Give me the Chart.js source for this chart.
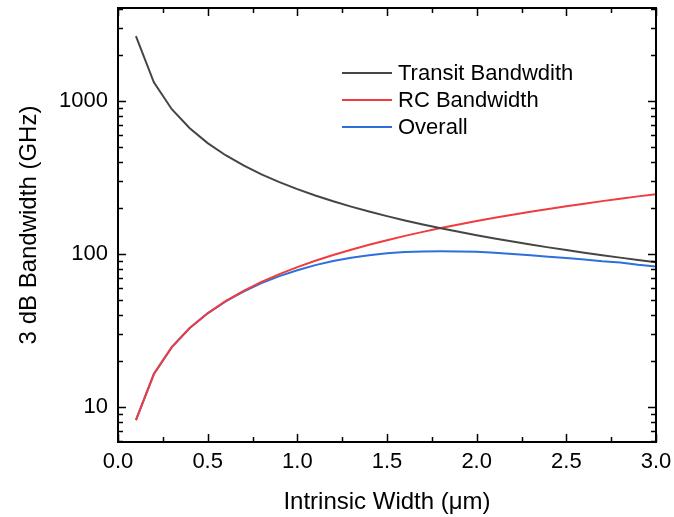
<!DOCTYPE html>
<html>
<head>
<meta charset="utf-8">
<script src="https://cdn.jsdelivr.net/npm/chart.js@4/dist/chart.umd.min.js"></script>
<style>
  html, body { margin: 0; padding: 0; background: #fff; }
  #wrap { width: 674px; height: 517px; }
</style>
</head>
<body>
<div id="wrap"><canvas id="chart" width="674" height="517"></canvas></div>
<script>
// Intrinsic width (um)
const widths = [0.1, 0.2, 0.3, 0.4, 0.5, 0.6, 0.7, 0.8, 0.9, 1.0,
  1.1, 1.2, 1.3, 1.4, 1.5, 1.6, 1.7, 1.8, 1.9, 2.0,
  2.1, 2.2, 2.3, 2.4, 2.5, 2.6, 2.7, 2.8, 2.9, 3.0];
// 3 dB bandwidths (GHz)
const transitBw = [2650, 1325, 883.3, 662.5, 530, 441.7, 378.6, 331.3, 294.4, 265,
  240.9, 220.8, 203.8, 189.3, 176.7, 165.6, 155.9, 147.2, 139.5, 132.5,
  126.2, 120.5, 115.2, 110.4, 106, 101.9, 98.1, 94.6, 91.4, 88.3];
const rcBw = [8.2, 16.4, 24.6, 32.8, 41, 49.2, 57.4, 65.6, 73.8, 82,
  90.2, 98.4, 106.6, 114.8, 123, 131.2, 139.4, 147.6, 155.8, 164,
  172.2, 180.4, 188.6, 196.8, 205, 213.2, 221.4, 229.6, 237.8, 246];
const overallBw = [8.2, 16.4, 24.6, 32.8, 40.9, 48.9, 56.8, 64.4, 71.6, 78.3,
  84.5, 89.9, 94.5, 98.1, 101.0, 102.9, 103.9, 104.1, 103.7, 103.3,
  101.7, 99.9, 98.2, 96.0, 94.2, 92.0, 89.6, 87.8, 85.0, 82.9];

const seriesLabels = ['Transit Bandwdith', 'RC Bandwidth', 'Overall'];
const seriesColors = ['#454545', '#f03c3c', '#2d6fdc'];

const xTickLabels = [0, 0.5, 1.0, 1.5, 2.0, 2.5, 3.0];
const xMinorTicks = [0.25, 0.75, 1.25, 1.75, 2.25, 2.75];
const yTickLabels = [10, 100, 1000];

const FONT = '"Liberation Sans", Arial, sans-serif';

// y minor ticks for the log axis: 2..9 of each decade
const yMinorTicks = [];
[1, 10, 100, 1000].forEach(d => {
  for (let m = 2; m <= 9; m++) yMinorTicks.push(d * m);
});

// Draws the box frame with inward ticks on all four sides
const framePlugin = {
  id: 'frame',
  afterDraw(chart) {
    const { ctx, chartArea: a, scales } = chart;
    const xs = scales.x, ys = scales.y;
    ctx.save();
    ctx.strokeStyle = '#000';
    ctx.lineWidth = 2;
    ctx.strokeRect(a.left, a.top, a.right - a.left, a.bottom - a.top);
    ctx.lineWidth = 1.5;
    const xt = (v, len) => {
      const p = Math.round(xs.getPixelForValue(v)) + 0.5;
      ctx.beginPath();
      ctx.moveTo(p, a.bottom); ctx.lineTo(p, a.bottom - len);
      ctx.moveTo(p, a.top); ctx.lineTo(p, a.top + len);
      ctx.stroke();
    };
    const yt = (v, len) => {
      if (v < ys.min || v > ys.max) return;
      const p = Math.round(ys.getPixelForValue(v)) + 0.5;
      ctx.beginPath();
      ctx.moveTo(a.left, p); ctx.lineTo(a.left + len, p);
      ctx.moveTo(a.right, p); ctx.lineTo(a.right - len, p);
      ctx.stroke();
    };
    xTickLabels.forEach(v => xt(v, 8));
    xMinorTicks.forEach(v => xt(v, 5));
    yTickLabels.forEach(v => yt(v, 8));
    yMinorTicks.forEach(v => yt(v, 5));
    ctx.restore();
  }
};

// Legend inside the plot
const legendPlugin = {
  id: 'insideLegend',
  afterDraw(chart) {
    const { ctx } = chart;
    ctx.save();
    ctx.font = '22px ' + FONT;
    ctx.textBaseline = 'middle';
    chart.data.datasets.forEach((ds, i) => {
      const y = 73 + i * 27;
      ctx.strokeStyle = ds.borderColor;
      ctx.lineWidth = 2;
      ctx.beginPath();
      ctx.moveTo(342, y); ctx.lineTo(392, y);
      ctx.stroke();
      ctx.fillStyle = '#000';
      ctx.fillText(ds.label, 398, y + 1);
    });
    ctx.restore();
  }
};

const datasets = [transitBw, rcBw, overallBw].map((vals, i) => ({
  label: seriesLabels[i],
  data: widths.map((w, j) => ({ x: w, y: vals[j] })),
  borderColor: seriesColors[i],
  backgroundColor: seriesColors[i],
  borderWidth: 2,
  pointRadius: 0,
  tension: 0
}));

new Chart(document.getElementById('chart'), {
  type: 'line',
  data: { datasets },
  plugins: [framePlugin, legendPlugin],
  options: {
    responsive: false,
    animation: false,
    layout: { padding: { top: 8, right: 18, left: 0, bottom: 0 } },
    plugins: { legend: { display: false }, tooltip: { enabled: false } },
    scales: {
      x: {
        type: 'linear',
        min: 0,
        max: 3,
        afterBuildTicks: s => { s.ticks = xTickLabels.map(v => ({ value: v })); },
        afterFit: s => { s.height = 75; s.paddingLeft = 0; s.paddingRight = 0; },
        grid: { display: false, drawTicks: false },
        border: { display: false },
        ticks: {
          color: '#000',
          padding: 7,
          font: { family: FONT, size: 22 },
          callback: v => v.toFixed(1)
        },
        title: {
          display: true,
          text: 'Intrinsic Width (μm)',
          color: '#000',
          font: { family: FONT, size: 24 },
          padding: { top: 0, bottom: 0 }
        }
      },
      y: {
        type: 'logarithmic',
        min: 5.9,
        max: 4050,
        afterBuildTicks: s => { s.ticks = yTickLabels.map(v => ({ value: v })); },
        afterFit: s => { s.width = 118; s.paddingTop = 0; s.paddingBottom = 0; },
        grid: { display: false, drawTicks: false },
        border: { display: false },
        ticks: {
          color: '#000',
          padding: 10,
          font: { family: FONT, size: 22 },
          callback: v => String(v)
        },
        title: {
          display: true,
          text: '3 dB Bandwidth (GHz)',
          color: '#000',
          font: { family: FONT, size: 24 },
          padding: { top: 15, bottom: 0 }
        }
      }
    }
  }
});
</script>
</body>
</html>
